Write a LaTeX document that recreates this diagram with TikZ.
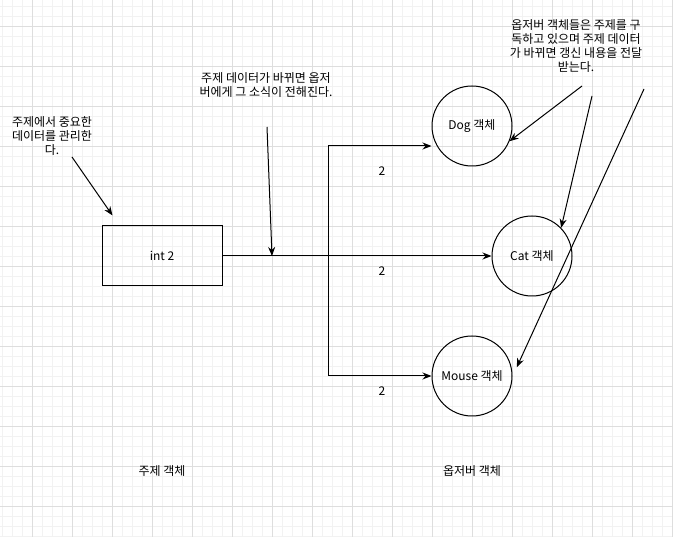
\documentclass[tikz,border=0pt]{standalone}
\usepackage{fontspec}
\setmainfont{Noto Sans CJK KR}
\usetikzlibrary{arrows.meta}

\begin{document}
\begin{tikzpicture}[x=1pt, y=-1pt, line width=1pt,
    font=\fontsize{12}{14}\selectfont,
    minorgrid/.style={black!5, line width=0.75pt},
    majorgrid/.style={black!13, line width=0.75pt},
    obs/.style={draw, circle, minimum size=80pt, inner sep=0pt},
    note/.style={align=center, inner sep=0pt},
    link/.style={-{Stealth[length=9pt, width=7pt]}}]
    % Background grid
    \useasboundingbox (0,0) rectangle (673,537);
    \fill[white] (0,0) rectangle (673,537);
    \foreach \gx in {2.5,12.5,...,672.5} \draw[minorgrid] (\gx,0) -- (\gx,537);
    \foreach \gy in {6.5,16.5,...,536.5} \draw[minorgrid] (0,\gy) -- (673,\gy);
    \foreach \gx in {32.5,72.5,...,672.5} \draw[majorgrid] (\gx,0) -- (\gx,537);
    \foreach \gy in {26.5,66.5,...,526.5} \draw[majorgrid] (0,\gy) -- (673,\gy);

    % Subject and observers
    \node[draw, minimum width=120pt, minimum height=60pt] (subj) at (162,256) {int 2};
    \node[obs] (dog) at (472,126) {Dog 객체};
    \node[obs] (cat) at (532,256) {Cat 객체};
    \node[obs] (mouse) at (472,376) {Mouse 객체};

    % Notifications
    \coordinate (fork) at (328,256);
    \draw[link] (subj.east) -- (cat.west);
    \draw[link] (fork) |- ([yshift=-20pt]dog.west);
    \draw[link] (fork) |- (mouse.west);
    \node (valdog) at (382,171) {2};
    \node (valcat) at (382,271) {2};
    \node (valmouse) at (382,391) {2};

    % Notes
    \node[note] (notesubj) at (52,136) {주제에서 중요한\\데이터를 관리한\\다.};
    \node[note] (notechange) at (266,85) {주제 데이터가 바뀌면 옵저\\버에게 그 소식이 전해진다.};
    \node[note] (noteobs) at (576,46) {옵저버 객체들은 주제를 구\\독하고 있으며 주제 데이터\\가 바뀌면 갱신 내용을 전달\\받는다.};
    \coordinate (subjtail) at (72,157);
    \coordinate (changetail) at (267,127);
    \coordinate (changehead) at (272,256);
    \coordinate (dogtail) at (582,86);
    \coordinate (cattail) at (592,96);
    \coordinate (mousetail) at (644,89);
    \draw[link] (subjtail) -- ([shift={(11,-10)}]subj.north west);
    \draw[link] (changetail) -- (changehead);
    \draw[link] (dogtail) -- (dog.-22);
    \draw[link] (cattail) -- (cat.44);
    \draw[link] (mousetail) -- ([shift={(5,-1)}]mouse.11);

    % Captions
    \node (subjcap) at (162,471) {주제 객체};
    \node (obscap) at (472,471) {옵저버 객체};
\end{tikzpicture}
\end{document}
